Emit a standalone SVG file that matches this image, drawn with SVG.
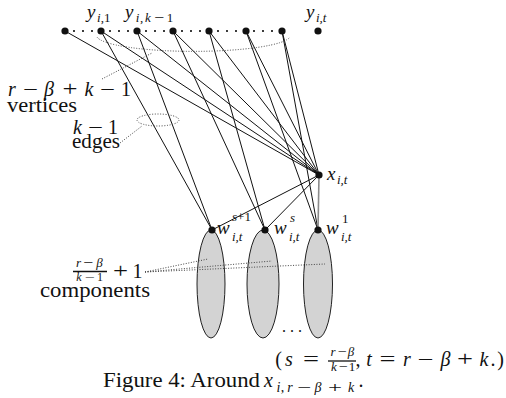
<svg xmlns="http://www.w3.org/2000/svg" width="506" height="398" viewBox="0 0 506 398">
<style>
.edge{stroke:#111;stroke-width:1;fill:none}
.gray{stroke:#8a8a8a;stroke-width:1.6;fill:none}
.dot{stroke:#444;stroke-width:1;stroke-dasharray:1 1.6;fill:none}
.topdots{stroke:#111;stroke-width:2.2;stroke-linecap:round;stroke-dasharray:0 9;fill:none}
.comp{fill:#d3d3d3;stroke:#222;stroke-width:1}
.node{fill:#111}
.bar{stroke:#111;stroke-width:1.3}
text{font-family:"Liberation Serif","DejaVu Serif",serif;fill:#111}
.m{font-style:italic}
.c{text-anchor:middle}
</style>
<rect width="506" height="398" fill="#fff"/>
<g id="components">
<ellipse class="comp" cx="211" cy="284" rx="14" ry="54"/>
<ellipse class="comp" cx="263" cy="284" rx="16" ry="54"/>
<ellipse class="comp" cx="318" cy="284" rx="14.5" ry="54"/>
</g>
<g id="connectors">
<line class="topdots" x1="65" y1="31" x2="282" y2="31"/>
<line class="edge" x1="65" y1="31" x2="319" y2="175"/>
<line class="edge" x1="101" y1="31" x2="319" y2="175"/>
<line class="edge" x1="137" y1="31" x2="319" y2="175"/>
<line class="edge" x1="173" y1="31" x2="319" y2="175"/>
<line class="edge" x1="209" y1="31" x2="319" y2="175"/>
<line class="edge" x1="246" y1="31" x2="319" y2="175"/>
<line class="edge" x1="282" y1="31" x2="319" y2="175"/>
<line class="edge" x1="101" y1="31" x2="212" y2="230"/>
<line class="edge" x1="137" y1="31" x2="212" y2="230"/>
<line class="edge" x1="173" y1="31" x2="265" y2="230"/>
<line class="edge" x1="209" y1="31" x2="265" y2="230"/>
<line class="edge" x1="246" y1="31" x2="318" y2="230"/>
<line class="edge" x1="282" y1="31" x2="318" y2="230"/>
<line class="edge" x1="319" y1="175" x2="212" y2="230"/>
<line class="edge" x1="319" y1="175" x2="265" y2="230"/>
<line class="gray" x1="319" y1="175" x2="318" y2="230"/>
</g>
<g id="annotations">
<path class="dot" d="M 97 37 A 97 16 0 0 0 290 37"/>
<line class="dot" x1="102" y1="79" x2="152" y2="53"/>
<ellipse class="dot" cx="158" cy="120" rx="21" ry="6"/>
<line class="dot" x1="120" y1="143" x2="142" y2="126"/>
<line class="dot" x1="145" y1="272" x2="208" y2="259"/>
<line class="dot" x1="145" y1="272" x2="272" y2="261"/>
<line class="dot" x1="145" y1="272" x2="325" y2="264"/>
</g>
<g id="top-nodes">
<circle class="node" cx="65" cy="31" r="3.6"/>
<circle class="node" cx="101" cy="31" r="3.6"/>
<circle class="node" cx="137" cy="31" r="3.6"/>
<circle class="node" cx="173" cy="31" r="3.6"/>
<circle class="node" cx="209" cy="31" r="3.6"/>
<circle class="node" cx="246" cy="31" r="3.6"/>
<circle class="node" cx="282" cy="31" r="3.6"/>
<circle class="node" cx="318" cy="31" r="3.6"/>
</g>
<g id="node-x">
<circle class="node" cx="319" cy="175" r="3.6"/>
<text class="m" x="327" y="180" font-size="19">x</text>
<text class="m" x="337" y="184" font-size="13">i,t</text>
</g>
<g id="node-w1">
<circle class="node" cx="318" cy="230" r="3.6"/>
<text class="m" x="326" y="234" font-size="19">w</text>
<text x="342" y="223" font-size="13">1</text>
<text class="m" x="341" y="241" font-size="13">i,t</text>
</g>
<g id="node-ws">
<circle class="node" cx="265" cy="230" r="3.6"/>
<text class="m" x="274" y="234" font-size="19">w</text>
<text class="m" x="290" y="222" font-size="13">s</text>
<text class="m" x="289" y="241" font-size="13">i,t</text>
</g>
<g id="node-ws1">
<circle class="node" cx="212" cy="230" r="3.6"/>
<text class="m" x="217" y="234" font-size="19">w</text>
<text x="232" y="221" font-size="13"><tspan class="m">s</tspan>+1</text>
<text class="m" x="232" y="241" font-size="13">i,t</text>
</g>
<g id="labels">
<text class="m" x="87" y="18" font-size="19">y</text>
<text x="97" y="22" font-size="13"><tspan class="m">i</tspan>,1</text>
<text class="m" x="125" y="18" font-size="19">y</text>
<text class="m c" x="137.5" y="22" font-size="13">i</text>
<text class="c" x="141.5" y="22" font-size="13">,</text>
<text class="m c" x="148" y="22" font-size="13">k</text>
<text class="c" x="159" y="22" font-size="13" textLength="10" lengthAdjust="spacingAndGlyphs">−</text>
<text class="c" x="170" y="22" font-size="13">1</text>
<text class="m" x="306" y="18" font-size="19">y</text>
<text class="m" x="316" y="22" font-size="13">i,t</text>

<text class="m c" x="12" y="96" font-size="20">r</text>
<text class="c" x="30.5" y="96" font-size="20" textLength="15" lengthAdjust="spacingAndGlyphs">−</text>
<text class="m c" x="49" y="96" font-size="20">β</text>
<text class="c" x="70" y="96" font-size="20" textLength="15" lengthAdjust="spacingAndGlyphs">+</text>
<text class="m c" x="89" y="96" font-size="20">k</text>
<text class="c" x="107.5" y="96" font-size="20" textLength="15" lengthAdjust="spacingAndGlyphs">−</text>
<text class="c" x="126" y="96" font-size="20">1</text>
<text x="7" y="112" font-size="20" textLength="70" lengthAdjust="spacingAndGlyphs">vertices</text>

<text class="m c" x="77.5" y="134" font-size="20">k</text>
<text class="c" x="95.5" y="134" font-size="20" textLength="15" lengthAdjust="spacingAndGlyphs">−</text>
<text class="c" x="113" y="134" font-size="20">1</text>
<text x="72" y="148" font-size="20" textLength="48" lengthAdjust="spacingAndGlyphs">edges</text>

<text class="m c" x="78.5" y="267" font-size="13">r</text>
<text class="c" x="88" y="267" font-size="13" textLength="10" lengthAdjust="spacingAndGlyphs">−</text>
<text class="m c" x="99.5" y="267" font-size="13">β</text>
<line class="bar" x1="73" y1="271.5" x2="107" y2="271.5"/>
<text class="m c" x="79" y="281" font-size="12">k</text>
<text class="c" x="90" y="281" font-size="12" textLength="10" lengthAdjust="spacingAndGlyphs">−</text>
<text class="c" x="100" y="281" font-size="12">1</text>
<text class="c" x="120.5" y="278" font-size="20" textLength="15" lengthAdjust="spacingAndGlyphs">+</text>
<text class="c" x="137.5" y="278" font-size="20">1</text>
<text x="40" y="297" font-size="20" textLength="110" lengthAdjust="spacingAndGlyphs">components</text>

<text x="282" y="332" font-size="16">. . .</text>
</g>
<g id="caption">
<text class="c" x="278.5" y="366" font-size="20">(</text>
<text class="m c" x="289" y="366" font-size="20">s</text>
<text class="c" x="311" y="366" font-size="20" textLength="16" lengthAdjust="spacingAndGlyphs">=</text>
<text class="m c" x="333" y="356" font-size="13">r</text>
<text class="c" x="342" y="356" font-size="13" textLength="9" lengthAdjust="spacingAndGlyphs">−</text>
<text class="m c" x="351" y="356" font-size="13">β</text>
<line class="bar" x1="328" y1="361" x2="356" y2="361"/>
<text class="m c" x="334" y="371" font-size="13">k</text>
<text class="c" x="343" y="371" font-size="13" textLength="9" lengthAdjust="spacingAndGlyphs">−</text>
<text class="c" x="352" y="371" font-size="13">1</text>
<text class="c" x="358" y="366" font-size="20">,</text>
<text class="m c" x="369" y="366" font-size="20">t</text>
<text class="c" x="387.5" y="366" font-size="20" textLength="16" lengthAdjust="spacingAndGlyphs">=</text>
<text class="m c" x="407" y="366" font-size="20">r</text>
<text class="c" x="425.5" y="366" font-size="20" textLength="16" lengthAdjust="spacingAndGlyphs">−</text>
<text class="m c" x="445.5" y="366" font-size="20">β</text>
<text class="c" x="465" y="366" font-size="20" textLength="16" lengthAdjust="spacingAndGlyphs">+</text>
<text class="m c" x="484" y="366" font-size="20">k</text>
<text class="c" x="493" y="366" font-size="20">.</text>
<text class="c" x="500.5" y="366" font-size="20">)</text>

<text x="103" y="387" font-size="20" textLength="157" lengthAdjust="spacingAndGlyphs">Figure 4: Around</text>
<text class="m" x="264" y="387" font-size="20">x</text>
<text class="m c" x="278.5" y="392" font-size="14">i</text>
<text class="c" x="282.5" y="392" font-size="14">,</text>
<text class="m c" x="290" y="392" font-size="14">r</text>
<text class="c" x="304.5" y="392" font-size="14" textLength="14" lengthAdjust="spacingAndGlyphs">−</text>
<text class="m c" x="318" y="392" font-size="14">β</text>
<text class="c" x="335" y="392" font-size="14" textLength="14" lengthAdjust="spacingAndGlyphs">+</text>
<text class="m c" x="351" y="392" font-size="14">k</text>
<text class="c" x="361" y="387" font-size="20">.</text>
</g>
</svg>
